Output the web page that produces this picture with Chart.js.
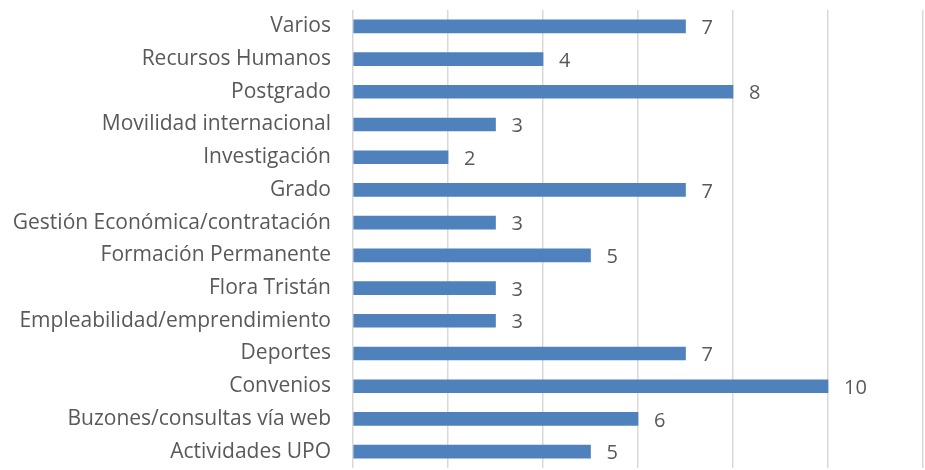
<!DOCTYPE html>
<html>
<head>
<meta charset="utf-8">
<script src="https://cdn.jsdelivr.net/npm/chart.js@4.4.1/dist/chart.umd.min.js"></script>
<style>
  html, body { margin: 0; padding: 0; background: #fff; }
  #wrap { width: 925px; height: 470px; position: relative; }
</style>
</head>
<body>
<div id="wrap"><canvas id="chart"></canvas></div>
<script>
// Categories (top to bottom) and counts
const categories = [
  'Varios',
  'Recursos Humanos',
  'Postgrado',
  'Movilidad internacional',
  'Investigación',
  'Grado',
  'Gestión Económica/contratación',
  'Formación Permanente',
  'Flora Tristán',
  'Empleabilidad/emprendimiento',
  'Deportes',
  'Convenios',
  'Buzones/consultas vía web',
  'Actividades UPO'
];
const counts = [7, 4, 8, 3, 2, 7, 3, 5, 3, 3, 7, 10, 6, 5];
const xTicks = [0, 2, 4, 6, 8, 10, 12];

const textColor = '#595959';

// Draw the value next to each bar
const valueLabels = {
  id: 'valueLabels',
  afterDatasetsDraw(chart) {
    const ctx = chart.ctx;
    const meta = chart.getDatasetMeta(0);
    ctx.save();
    ctx.font = '20px "Open Sans"';
    ctx.fillStyle = textColor;
    ctx.textBaseline = 'middle';
    ctx.textAlign = 'left';
    meta.data.forEach((bar, i) => {
      ctx.fillText(String(counts[i]), bar.x + 16, bar.y + 2);
    });
    ctx.restore();
  }
};

new Chart(document.getElementById('chart'), {
  type: 'bar',
  data: {
    labels: categories,
    datasets: [{
      data: counts,
      backgroundColor: 'rgb(79, 129, 189)',
      borderWidth: 0,
      barThickness: 13
    }]
  },
  options: {
    indexAxis: 'y',
    responsive: true,
    maintainAspectRatio: false,
    animation: false,
    layout: { padding: { top: 10, bottom: 2, right: 2, left: 0 } },
    plugins: {
      legend: { display: false },
      tooltip: { enabled: false }
    },
    scales: {
      x: {
        min: 0,
        max: 12,
        afterBuildTicks: (scale) => { scale.ticks = xTicks.map(v => ({ value: v })); },
        afterFit: (scale) => { scale.height = 0; },
        ticks: { display: false },
        border: { display: false },
        grid: { color: '#d9d9d9', lineWidth: 1.5, drawTicks: false }
      },
      y: {
        afterFit: (scale) => { scale.width = 353; scale.paddingTop = 0; scale.paddingBottom = 0; },
        ticks: { color: textColor, font: { family: 'Open Sans', size: 21 }, padding: 14, autoSkip: false },
        border: { display: false },
        grid: { display: false }
      }
    }
  },
  plugins: [valueLabels]
});
</script>
</body>
</html>
